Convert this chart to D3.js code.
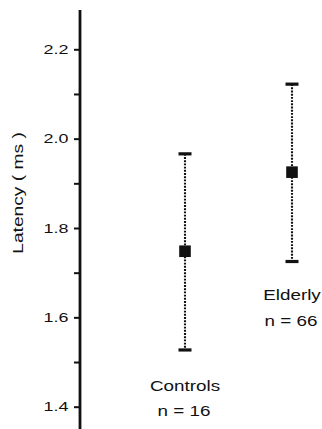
<!DOCTYPE html>
<html><head><meta charset="utf-8">
<script src="https://cdn.jsdelivr.net/npm/d3@7"></script>
<style>html,body{margin:0;padding:0;background:#fff;}svg{display:block;}</style>
</head><body>
<script>
const categories = ["Controls", "Elderly"];
const sampleSizes = [16, 66];
const means = [1.748, 1.925];
const upper = [1.966, 2.122];
const lower = [1.527, 1.725];
const majorTicks = [1.4, 1.6, 1.8, 2.0, 2.2];
const minorTicks = [1.5, 1.7, 1.9, 2.1];
const yTitle = "Latency ( ms )";

const W = 322, H = 429;
const svg = d3.select("body").append("svg").attr("width", W).attr("height", H);
const font = "'Liberation Sans', Arial, Helvetica, sans-serif";

const y = d3.scaleLinear().domain([1.4, 2.2]).range([406.7, 49.3]);
const x = d3.scalePoint().domain(categories).range([185, 292]);
const axisX = 80;

// axis line
svg.append("line")
  .attr("x1", axisX).attr("x2", axisX)
  .attr("y1", y(2.288)).attr("y2", y(1.35))
  .attr("stroke", "#111").attr("stroke-width", 2.8);

// ticks via d3 axis
const axisG = svg.append("g").attr("transform", `translate(${axisX},0)`)
  .call(d3.axisLeft(y).tickValues(majorTicks.concat(minorTicks)).tickSize(6).tickFormat(""));
axisG.select(".domain").remove();
axisG.selectAll(".tick line").attr("stroke", "#111").attr("stroke-width", 2);

// tick labels
majorTicks.forEach(v => {
  svg.append("g").attr("transform", `translate(68.5,${y(v) + 4.6}) scale(1.4,1)`)
    .append("text").attr("text-anchor", "end")
    .attr("font-family", font).attr("font-size", 12.8).attr("fill", "#111")
    .text(d3.format(".1f")(v));
});

// y title
svg.append("g").attr("transform", `translate(23,193) rotate(-90) scale(1.28,1)`)
  .append("text").attr("text-anchor", "middle")
  .attr("font-family", font).attr("font-size", 15).attr("fill", "#111")
  .text(yTitle);

// error bars
categories.forEach((c, i) => {
  const cx = x(c);
  svg.append("line").attr("x1", cx).attr("x2", cx)
    .attr("y1", y(upper[i])).attr("y2", y(lower[i]))
    .attr("stroke", "#111").attr("stroke-width", 2.1).attr("stroke-dasharray", "1.9,1.3");
  [upper[i], lower[i]].forEach(v => {
    svg.append("line").attr("x1", cx - 6.5).attr("x2", cx + 6.5)
      .attr("y1", y(v)).attr("y2", y(v))
      .attr("stroke", "#111").attr("stroke-width", 3.2);
  });
  svg.append("rect").attr("x", cx - 5.8).attr("y", y(means[i]) - 5.8)
    .attr("width", 11.6).attr("height", 11.6).attr("fill", "#111");
});

// category labels
const labelPos = [{name: 390.5, n: 415.5}, {name: 300, n: 325.5}];
categories.forEach((c, i) => {
  const cx = x(c);
  svg.append("g").attr("transform", `translate(${cx},${labelPos[i].name}) scale(1.3,1)`)
    .append("text").attr("text-anchor", "middle")
    .attr("font-family", font).attr("font-size", 14.5).attr("fill", "#111")
    .text(c);
  svg.append("g").attr("transform", `translate(${cx - 1},${labelPos[i].n}) scale(1.3,1)`)
    .append("text").attr("text-anchor", "middle")
    .attr("font-family", font).attr("font-size", 14.5).attr("fill", "#111")
    .attr("xml:space", "preserve")
    .text("n = " + sampleSizes[i]);
});
</script>
</body></html>
